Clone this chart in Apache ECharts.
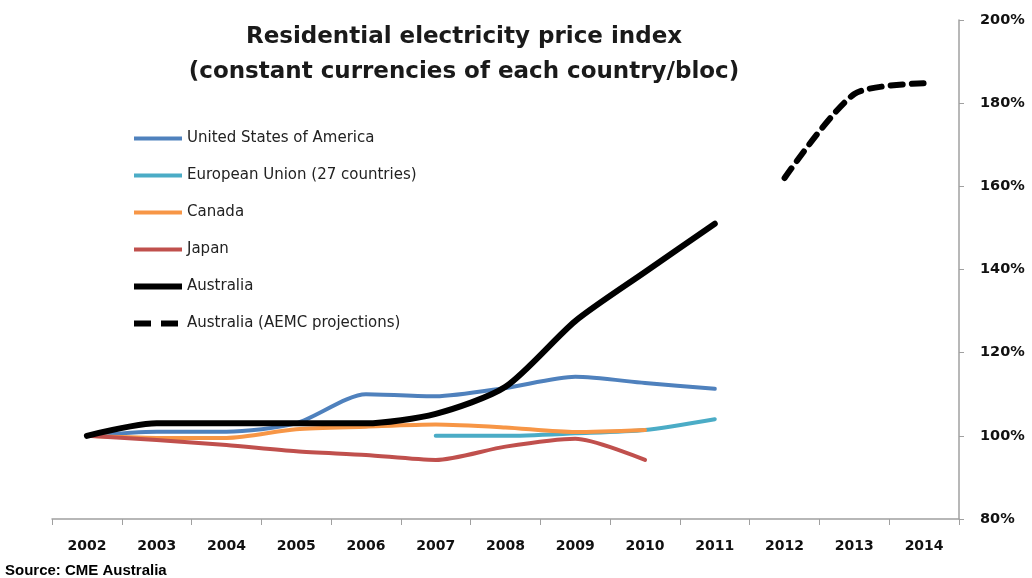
<!DOCTYPE html>
<html>
<head>
<meta charset="utf-8">
<script src="https://cdn.jsdelivr.net/npm/echarts@6/dist/echarts.min.js"></script>
<style>html,body{margin:0;padding:0;background:#fff;}#c{width:1032px;height:578px;}</style>
</head>
<body>
<div id="c"></div>
<script>
var years = ['2002','2003','2004','2005','2006','2007','2008','2009','2010','2011','2012','2013','2014'];
var usa       = [100, 101, 101, 103, 110, 109.5, 111.5, 114.2, 112.7, 111.3, null, null, null];
var eu        = [null, null, null, null, null, 100, 100, 100.6, 101.4, 104, null, null, null];
var canada    = [100, 99.5, 99.5, 101.6, 102.2, 102.7, 102, 100.9, 101.4, null, null, null, null];
var japan     = [100, 99, 97.8, 96.3, 95.4, 94.2, 97.4, 99.3, 94.2, null, null, null, null];
var australia = [100, 103, 103, 103, 103, 105.3, 111.8, 127.6, 139.4, 151, null, null, null];
var aemc      = [null, null, null, null, null, null, null, null, null, null, 162, 182.2, 184.8];
var yTicks = { min: 80, max: 200, interval: 20 };
var names = ['United States of America','European Union (27 countries)','Canada','Japan','Australia','Australia (AEMC projections)'];

var chart = echarts.init(document.getElementById('c'));
function line(name, data, color, width, dash) {
  return {
    name: name, type: 'line', data: data, smooth: 0.25, symbol: 'none',
    connectNulls: false,
    lineStyle: { color: color, width: width, type: dash || 'solid', cap: 'round', join: 'round' },
    itemStyle: { color: color },
    emphasis: { disabled: true }
  };
}
function legendItem(name, width, type) {
  return { name: name, itemStyle: { opacity: 0 }, lineStyle: { width: width, type: type || 'solid', cap: 'butt' } };
}
chart.setOption({
  animation: false,
  backgroundColor: '#fff',
  title: {
    text: 'Residential electricity price index\n(constant currencies of each country/bloc)',
    left: 459, top: 15, textAlign: 'center',
    textStyle: { fontFamily: 'DejaVu Sans', fontWeight: 'bold', fontSize: 23, color: '#1a1a1a', lineHeight: 35 }
  },
  legend: {
    orient: 'vertical', left: 131, top: 131, padding: 0, itemWidth: 48, itemHeight: 14, itemGap: 22,
    textStyle: { fontFamily: 'DejaVu Sans', fontSize: 15, color: '#222' },
    data: [
      legendItem(names[0], 4),
      legendItem(names[1], 4),
      legendItem(names[2], 4),
      legendItem(names[3], 4),
      legendItem(names[4], 6),
      legendItem(names[5], 6, [17, 10])
    ],
    selectedMode: false
  },
  grid: { left: 52, right: 73, top: 20, bottom: 59, containLabel: false },
  xAxis: {
    type: 'category', data: years, boundaryGap: true,
    axisLine: { lineStyle: { color: '#a0a0a0', width: 1.5 } },
    axisTick: { show: true, interval: 0, length: 6, lineStyle: { color: '#a0a0a0' } },
    axisLabel: { interval: 0, margin: 20, fontFamily: 'DejaVu Sans', fontWeight: 'bold', fontSize: 14, color: '#111' }
  },
  yAxis: {
    type: 'value', position: 'right', min: yTicks.min, max: yTicks.max, interval: yTicks.interval,
    axisLine: { show: true, lineStyle: { color: '#a0a0a0', width: 1.5 } },
    axisTick: { show: true, length: 5, lineStyle: { color: '#a0a0a0' } },
    splitLine: { show: false },
    axisLabel: { formatter: '{value}%', margin: 21, fontFamily: 'DejaVu Sans', fontWeight: 'bold', fontSize: 14.5, color: '#111' }
  },
  series: [
    line(names[0], usa, '#4F81BD', 4),
    line(names[1], eu, '#4BACC6', 4),
    line(names[2], canada, '#F79646', 4),
    line(names[3], japan, '#C0504D', 4),
    line(names[4], australia, '#000000', 6),
    line(names[5], aemc, '#000000', 6, [12, 9])
  ],
  graphic: [{
    type: 'text', left: 5, top: 563,
    style: { text: 'Source: CME Australia', fontFamily: 'Liberation Sans', fontWeight: 'bold', fontSize: 15, fill: '#000' }
  }]
});
</script>
</body>
</html>
